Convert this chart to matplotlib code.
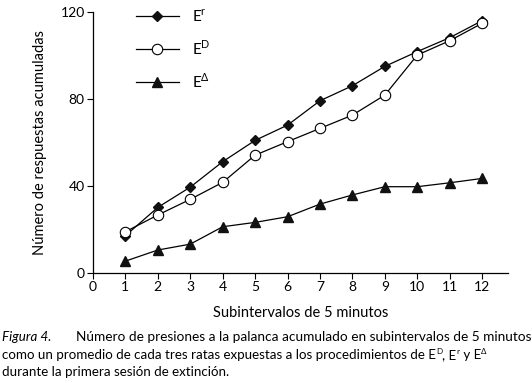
import matplotlib.pyplot as plt

# datos
intervalos = [1, 2, 3, 4, 5, 6, 7, 8, 9, 10, 11, 12]
e_r = [17.2, 30.2, 39.5, 51.2, 61.0, 68.0, 79.2, 86.1, 95.0, 101.8, 108.2, 116.0]
e_d = [19.0, 26.7, 33.9, 41.7, 54.2, 60.4, 66.5, 72.6, 81.8, 100.2, 106.8, 114.8]
e_delta = [5.5, 10.6, 13.3, 21.3, 23.3, 25.9, 31.7, 35.9, 39.7, 39.7, 41.5, 43.5]

x_ticks = list(range(0, 13))
y_ticks = [0, 40, 80, 120]

plt.rcParams['font.family'] = ['Lato', 'DejaVu Sans']
plt.rcParams['mathtext.fontset'] = 'custom'
plt.rcParams['mathtext.rm'] = 'Lato'

fig = plt.figure(figsize=(5.32, 3.83), dpi=100)
ax = fig.add_axes([0.1748, 0.287, 0.7802, 0.6817])

ax.plot(intervalos, e_r, color='black', lw=0.9, marker='D', ms=5.5,
        mfc='#111111', mec='#111111', label=r'E$^{\mathrm{r}}$')
ax.plot(intervalos, e_d, color='black', lw=0.9, marker='o', ms=7.5,
        mfc='white', mec='black', mew=0.8, label=r'E$^{\mathrm{D}}$')
ax.plot(intervalos, e_delta, color='black', lw=0.9, marker='^', ms=7.5,
        mfc='#111111', mec='#111111', label=r'E$^{\Delta}$')

ax.set_xlim(0, 12.8)
ax.set_ylim(0, 120)
ax.set_xticks(x_ticks)
ax.set_yticks(y_ticks)
ax.tick_params(labelsize=10, length=4, width=0.8, pad=2)
for s in ['top', 'right']:
    ax.spines[s].set_visible(False)
for s in ['left', 'bottom']:
    ax.spines[s].set_linewidth(0.9)

ax.set_xlabel('Subintervalos de 5 minutos', fontsize=10.5, labelpad=9)
ax.set_ylabel('Número de respuestas acumuladas', fontsize=10.5, labelpad=10)

ax.legend(loc='upper left', bbox_to_anchor=(0.07, 1.07), frameon=False,
          fontsize=11, handlelength=2.8, labelspacing=0.95, handletextpad=0.9)

# pie de figura
renderer = fig.canvas.get_renderer()
W, H = 532, 383

def ancho(t):
    return t.get_window_extent(renderer).width

# tamano comun: el de la ultima linea ajustada a su ancho en el original
t3 = fig.text(2 / W, 1 - 372 / H, 'durante la primera sesión de extinción.', fontsize=10, va='center')
S = min(10 * 250 / ancho(t3), 9.6)
t3.set_fontsize(S)

# linea 1: ajustada entre x=76 y x=527
fig.text(2 / W, 1 - 337 / H, 'Figura 4.', fontsize=S, style='italic', va='center')
t1 = fig.text(76 / W, 1 - 337 / H,
              'Número de presiones a la palanca acumulado en subintervalos de 5 minutos',
              fontsize=10, va='center')
t1.set_fontsize(min(10 * (527 - 76) / ancho(t1), 10.2))

# linea 2: texto normal con superindices pequenos
tramos = [('como un promedio de cada tres ratas expuestas a los procedimientos de E', False),
          ('D', True), (', E', False), ('r', True), (' y E', False), ('\u0394', True)]
x = 2
for txt, sup in tramos:
    if sup:
        o = fig.text(x / W, 1 - 352 / H, txt, fontsize=S * 0.6, va='center')
    else:
        o = fig.text(x / W, 1 - 355 / H, txt, fontsize=S, va='center')
    x += ancho(o) + (0.5 if sup else 0)

plt.savefig('out.png', dpi=100)
